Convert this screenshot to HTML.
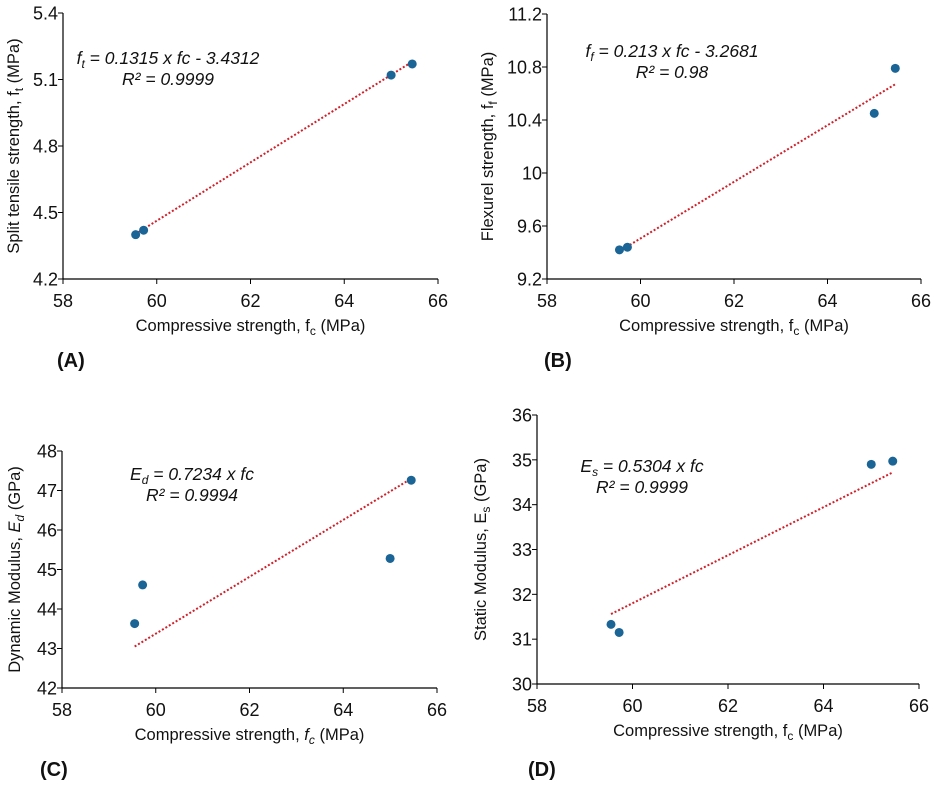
<!DOCTYPE html>
<html><head><meta charset="utf-8"><style>
body{margin:0;background:#fff;}
svg{display:block;font-family:"Liberation Sans",Arial,sans-serif;}
</style></head><body>
<svg id="fig" width="935" height="787" viewBox="0 0 935 787"></svg>
<script>
const xTicks=[58,60,62,64,66];
const aX=[59.55,59.72,65.0,65.45];
const aY=[4.40,4.42,5.12,5.17];
const aTrendX=[59.6,65.45];
const aTrendY=[4.41,5.18];
const aTicks=[4.2,4.5,4.8,5.1,5.4];
const aTickLabels=["4.2","4.5","4.8","5.1","5.4"];
const bX=[59.55,59.72,65.0,65.45];
const bY=[9.42,9.44,10.45,10.79];
const bTrendX=[59.55,65.45];
const bTrendY=[9.41,10.67];
const bTicks=[9.2,9.6,10,10.4,10.8,11.2];
const bTickLabels=["9.2","9.6","10","10.4","10.8","11.2"];
const cX=[59.55,59.72,65.0,65.45];
const cY=[43.63,44.61,45.28,47.26];
const cTrendX=[59.55,65.45];
const cTrendY=[43.05,47.3];
const cTicks=[42,43,44,45,46,47,48];
const cTickLabels=["42","43","44","45","46","47","48"];
const dX=[59.55,59.72,65.0,65.45];
const dY=[31.33,31.15,34.9,34.97];
const dTrendX=[59.55,65.45];
const dTrendY=[31.56,34.72];
const dTicks=[30,31,32,33,34,35,36];
const dTickLabels=["30","31","32","33","34","35","36"];

const svg=document.getElementById('fig');
const NS='http://www.w3.org/2000/svg';
function mk(tag,attrs,parent,text){const e=document.createElementNS(NS,tag);for(const k in attrs)e.setAttribute(k,attrs[k]);if(text!==undefined)e.innerHTML=text;parent.appendChild(e);return e;}

function panel(p){
  const g=mk('g',{},svg);
  
  
  const sx=v=>p.x0+(v-58)/8*(p.x1-p.x0);
  const ymin=p.ticks[0],ymax=p.ticks[p.ticks.length-1];
  const sy=v=>p.y0-(v-ymin)/(ymax-ymin)*(p.y0-p.y1);
  const ax=mk('line',{x1:p.x0,y1:p.y0,x2:p.x1,y2:p.y0,stroke:'#000','stroke-width':1.2},g);
  
  const ay=mk('line',{x1:p.x0,y1:p.y0,x2:p.x0,y2:p.y1,stroke:'#000','stroke-width':1.2},g);
  
  xTicks.forEach(t=>{
    mk('line',{x1:sx(t),y1:p.y0,x2:sx(t),y2:p.y0+5,stroke:'#000'},g);
    const tl=mk('text',{x:sx(t),y:p.y0+28,'font-size':18,'text-anchor':'middle',fill:'#111'},g,String(t));
    
  });
  p.ticks.forEach((t,i)=>{
    mk('line',{x1:p.x0-5,y1:sy(t),x2:p.x0,y2:sy(t),stroke:'#000'},g);
    const tl=mk('text',{x:p.x0-5,y:sy(t)+6.5,'font-size':18,'text-anchor':'end',fill:'#111'},g,p.labels[i]);
    
  });
  const tr=mk('line',{x1:sx(p.tx[0]),y1:sy(p.ty[0]),x2:sx(p.tx[1]),y2:sy(p.ty[1]),stroke:'#d0202a','stroke-width':2,'stroke-dasharray':'2,2'},g);
  
  p.xs.forEach((v,i)=>{
    const c=mk('circle',{cx:sx(v),cy:sy(p.ys[i]),r:4.5,fill:'#1a6496'},g);
    
  });
  const xt=mk('text',{x:(p.x0+p.x1)/2,y:p.y0+52,'font-size':16.5,'text-anchor':'middle',fill:'#111'},g,p.xtitle);
  
  const yt=mk('text',{x:0,y:0,'font-size':16.5,'text-anchor':'middle',fill:'#111',transform:'translate('+p.ytx+','+((p.y0+p.y1)/2)+') rotate(-90)'},g,p.ytitle);
  
  const e1=mk('text',{x:p.ex,y:p.ey,'font-size':17.5,'text-anchor':'middle','font-style':'italic',fill:'#111'},g,p.eq);
  
  const e2=mk('text',{x:p.ex,y:p.ey+21,'font-size':17.5,'text-anchor':'middle','font-style':'italic',fill:'#111'},g,p.r2);
  
  const pl=mk('text',{x:p.lx,y:p.ly,'font-size':20,'font-weight':'bold',fill:'#111'},g,'('+p.id+')');
  
}
const fcx='Compressive strength, f<tspan font-size="12" dy="4">c</tspan><tspan dy="-4"> (MPa)</tspan>';
panel({id:'A',x0:63,x1:438,y0:279,y1:13,ticks:aTicks,labels:aTickLabels,xs:aX,ys:aY,tx:aTrendX,ty:aTrendY,
 xtitle:fcx,ytitle:'Split tensile strength, f<tspan font-size="12" dy="4">t</tspan><tspan dy="-4"> (MPa)</tspan>',ytx:19,
 eq:'f<tspan font-size="12" dy="4">t</tspan><tspan dy="-4"> = 0.1315 x fc - 3.4312</tspan>',r2:'R² = 0.9999',ex:168,ey:64,lx:57,ly:367});
panel({id:'B',x0:547,x1:921,y0:279,y1:14,ticks:bTicks,labels:bTickLabels,xs:bX,ys:bY,tx:bTrendX,ty:bTrendY,
 xtitle:fcx,ytitle:'Flexurel strength, f<tspan font-size="12" dy="4">f</tspan><tspan dy="-4"> (MPa)</tspan>',ytx:493,
 eq:'f<tspan font-size="12" dy="4">f</tspan><tspan dy="-4"> = 0.213 x fc - 3.2681</tspan>',r2:'R² = 0.98',ex:672,ey:57,lx:544,ly:367});
panel({id:'C',x0:62,x1:437,y0:688,y1:451,ticks:cTicks,labels:cTickLabels,xs:cX,ys:cY,tx:cTrendX,ty:cTrendY,
 xtitle:'Compressive strength, <tspan font-style="italic">f</tspan><tspan font-size="12" dy="4" font-style="italic">c</tspan><tspan dy="-4"> (MPa)</tspan>',
 ytitle:'Dynamic Modulus, <tspan font-style="italic">E</tspan><tspan font-size="12" dy="4" font-style="italic">d</tspan><tspan dy="-4"> (GPa)</tspan>',ytx:20,
 eq:'E<tspan font-size="12" dy="4">d</tspan><tspan dy="-4"> = 0.7234 x fc</tspan>',r2:'R² = 0.9994',ex:192,ey:480,lx:40,ly:776});
panel({id:'D',x0:537,x1:919,y0:684,y1:415,ticks:dTicks,labels:dTickLabels,xs:dX,ys:dY,tx:dTrendX,ty:dTrendY,
 xtitle:fcx,ytitle:'Static Modulus, E<tspan font-size="12" dy="4">s</tspan><tspan dy="-4"> (GPa)</tspan>',ytx:486,
 eq:'E<tspan font-size="12" dy="4">s</tspan><tspan dy="-4"> = 0.5304 x fc</tspan>',r2:'R² = 0.9999',ex:642,ey:472,lx:528,ly:776});
</script>
</body></html>
